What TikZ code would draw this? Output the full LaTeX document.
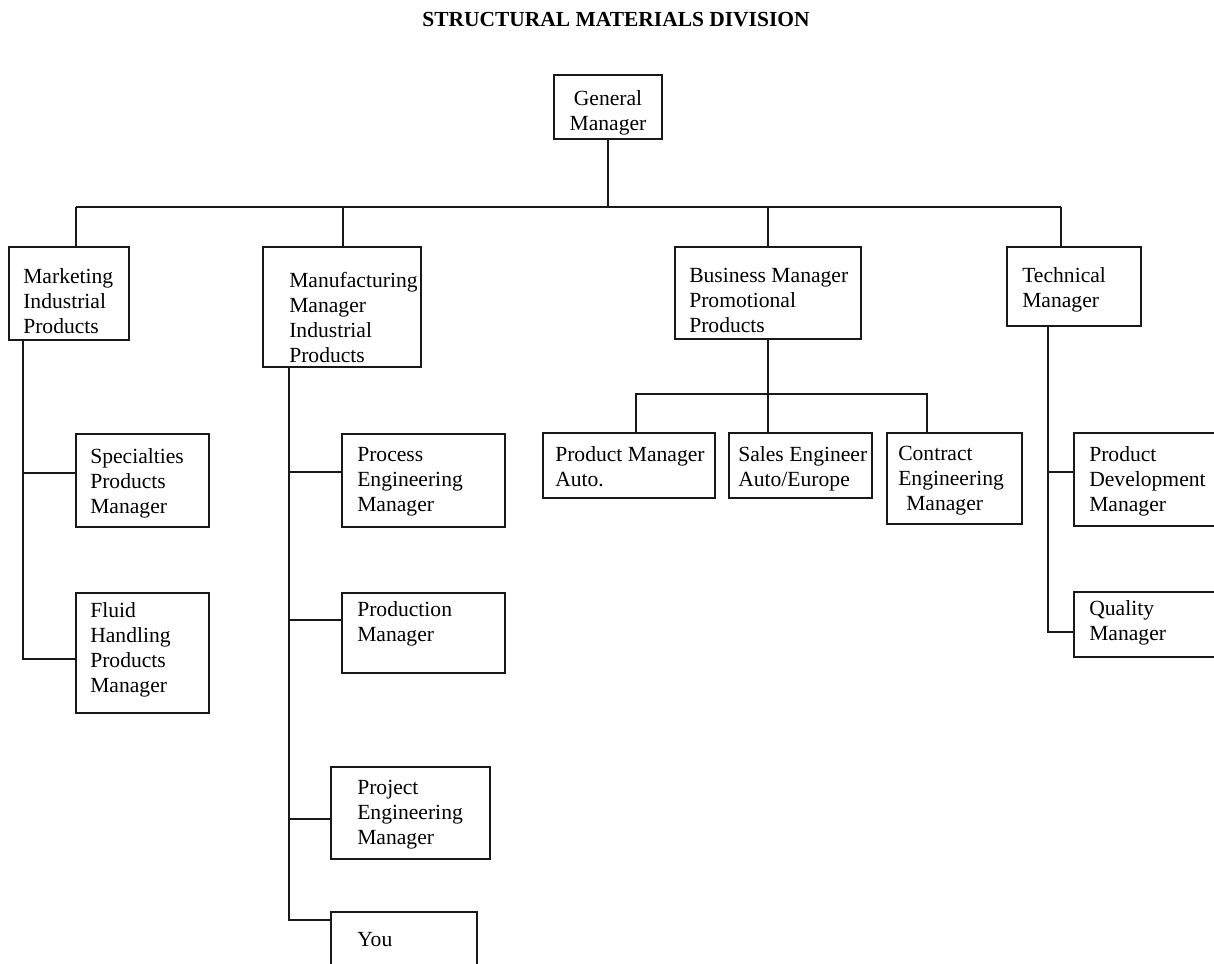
\documentclass[tikz,border=0pt]{standalone}
\usepackage{fontspec}
\setmainfont{Liberation Serif}
\usetikzlibrary{fit}
\newcommand\obox[8]{%
  \path (#2,#3) coordinate (#1-nw) (#4,#5) coordinate (#1-se);
  \node[box, fit=(#1-nw)(#1-se)] (#1) {};
  \node[txt, anchor=north west] (#1-t) at (#6,#7) {#8};
}
\begin{document}
\begin{tikzpicture}[x=0.75pt,y=-0.75pt,
  line/.style={draw=black!90, line width=1.3pt},
  box/.style={line, rectangle, inner sep=0pt},
  txt/.style={inner sep=0pt, align=left, text=black, font=\fontsize{16.2}{18.75}\selectfont},
  title/.style={inner sep=0pt, text=black, font=\bfseries\fontsize{16.1}{19}\selectfont},
]
\useasboundingbox (0,0) rectangle (1214,964);
\clip (0,0) rectangle (1214,964);

\node[title, anchor=base] (ttl) at (616,26) {STRUCTURAL MATERIALS DIVISION};

% General manager
\path (554,75) coordinate (gm-nw) (662,139) coordinate (gm-se);
\node[box, fit=(gm-nw)(gm-se)] (gm) {};
\node[txt, align=center, anchor=north] (gm-t) at (608,90) {General\\Manager};

% level 1
\obox{mkt}{9}{247}{129}{340}{23}{268}{Marketing\\Industrial\\Products}
\obox{mfg}{263}{247}{421}{367}{289}{272}{Manufacturing\\Manager\\Industrial\\Products}
\obox{bus}{675}{247}{861}{339}{689}{268}{Business Manager\\Promotional\\Products}
\obox{tech}{1007}{247}{1141}{326}{1022}{267}{Technical\\Manager}

% level 2
\obox{spec}{76}{434}{209}{527}{90}{448}{Specialties\\Products\\Manager}
\obox{fluid}{76}{593}{209}{713}{90}{602}{Fluid\\Handling\\Products\\Manager}
\obox{proc}{342}{434}{505}{527}{357}{447}{Process\\Engineering\\Manager}
\obox{prod}{342}{593}{505}{673}{357}{601}{Production\\Manager}
\obox{proj}{331}{767}{490}{859}{357}{780}{Project\\Engineering\\Manager}
\obox{you}{331}{912}{477}{990}{357}{932}{You}
\obox{pma}{543}{433}{715}{498}{555}{446}{Product Manager\\Auto.}
\obox{sales}{729}{433}{872}{498}{738}{446}{Sales Engineer\\Auto/Europe}
\obox{con}{887}{433}{1022}{524}{898}{446}{Contract\\Engineering\\\hspace*{6pt}Manager}
\obox{pdev}{1074}{433}{1240}{526}{1089}{446}{Product\\Development\\Manager}
\obox{qual}{1074}{592}{1240}{657}{1089}{600}{Quality\\Manager}

% top bus
\coordinate (busL) at (76,207);
\coordinate (bus2) at (343,207);
\coordinate (bus3) at (768,207);
\coordinate (busR) at (1061,207);
\draw[line] (gm.south) -- (gm.south |- busL);
\draw[line] (busL) -- (busR);
\draw[line] (busL) -- (busL |- mkt.north);
\draw[line] (bus2) -- (bus2 |- mfg.north);
\draw[line] (bus3) -- (bus3 |- bus.north);
\draw[line] (busR) -- (busR |- tech.north);

% marketing branch
\coordinate (m1) at (23,473);
\coordinate (m2) at (23,659);
\draw[line] (m1 |- mkt.south) -- (m2) -- (m2 -| fluid.west);
\draw[line] (m1) -- (m1 -| spec.west);

% manufacturing branch
\coordinate (p1) at (289,472);
\coordinate (p2) at (289,620);
\coordinate (p3) at (289,819);
\coordinate (p4) at (289,920);
\draw[line] (p1 |- mfg.south) -- (p4) -- (p4 -| you.west);
\draw[line] (p1) -- (p1 -| proc.west);
\draw[line] (p2) -- (p2 -| prod.west);
\draw[line] (p3) -- (p3 -| proj.west);

% business branch
\coordinate (s1) at (636,394);
\coordinate (s2) at (927,394);
\draw[line] (bus3 |- bus.south) -- (bus3 |- sales.north);
\draw[line] (s1 |- pma.north) -- (s1) -- (s2) -- (s2 |- con.north);

% technical branch
\coordinate (t1) at (1048,472);
\coordinate (t2) at (1048,632);
\draw[line] (t1 |- tech.south) -- (t2) -- (t2 -| qual.west);
\draw[line] (t1) -- (t1 -| pdev.west);
\end{tikzpicture}
\end{document}
